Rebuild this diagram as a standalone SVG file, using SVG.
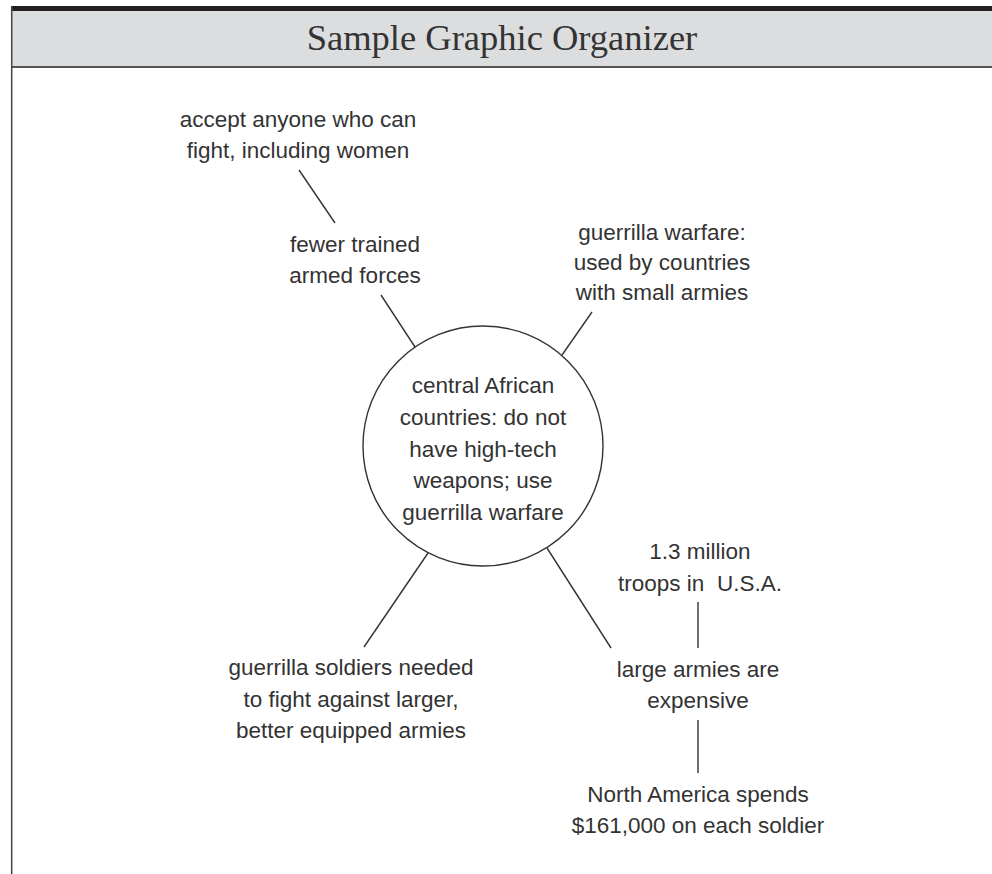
<svg xmlns="http://www.w3.org/2000/svg" width="992" height="874" viewBox="0 0 992 874">
<style>
.t{font-family:"Liberation Sans","DejaVu Sans",sans-serif;font-size:22.5px;fill:#333;text-anchor:middle}
.title{font-family:"Liberation Serif","DejaVu Serif",serif;font-size:36.5px;fill:#333;text-anchor:middle}
.c{stroke:#333;stroke-width:1.4;fill:none}
</style>
<rect x="0" y="0" width="992" height="874" fill="#fff"/>
<g id="frame">
<rect x="11" y="11" width="981" height="56" fill="#dcdddf"/>
<rect x="11" y="6" width="981" height="5" fill="#231f20"/>
<line x1="11" y1="67" x2="992" y2="67" stroke="#555" stroke-width="2"/>
<line x1="11.7" y1="6" x2="11.7" y2="874" stroke="#444" stroke-width="1.5"/>
<text class="title" x="502" y="50">Sample Graphic Organizer</text>
</g>
<g id="connectors">
<line class="c" x1="299" y1="170" x2="335" y2="223"/>
<line class="c" x1="381" y1="295" x2="415" y2="347"/>
<line class="c" x1="592" y1="312" x2="562" y2="355"/>
<line class="c" x1="428" y1="553" x2="364" y2="647"/>
<line class="c" x1="547" y1="548" x2="611" y2="648"/>
<line class="c" x1="698" y1="602" x2="698" y2="648"/>
<line class="c" x1="698" y1="720" x2="698" y2="773"/>
</g>
<g id="center">
<circle cx="483" cy="446" r="120" class="c"/>
<text class="t" x="483" y="393">central African</text>
<text class="t" x="483" y="425">countries: do not</text>
<text class="t" x="483" y="457">have high-tech</text>
<text class="t" x="483" y="488">weapons; use</text>
<text class="t" x="483" y="520">guerrilla warfare</text>
</g>
<g id="accept">
<text class="t" x="298" y="127">accept anyone who can</text>
<text class="t" x="298" y="158">fight, including women</text>
</g>
<g id="fewer">
<text class="t" x="355" y="252">fewer trained</text>
<text class="t" x="355" y="283">armed forces</text>
</g>
<g id="guerrillaWarfare">
<text class="t" x="662" y="240">guerrilla warfare:</text>
<text class="t" x="662" y="270">used by countries</text>
<text class="t" x="662" y="300">with small armies</text>
</g>
<g id="soldiers">
<text class="t" x="351" y="675">guerrilla soldiers needed</text>
<text class="t" x="351" y="707">to fight against larger,</text>
<text class="t" x="351" y="738">better equipped armies</text>
</g>
<g id="million">
<text class="t" x="700" y="559">1.3 million</text>
<text class="t" x="700" y="591">troops in&#160; U.S.A.</text>
</g>
<g id="large">
<text class="t" x="698" y="677">large armies are</text>
<text class="t" x="698" y="708">expensive</text>
</g>
<g id="spends">
<text class="t" x="698" y="802">North America spends</text>
<text class="t" x="698" y="833">$161,000 on each soldier</text>
</g>
</svg>
